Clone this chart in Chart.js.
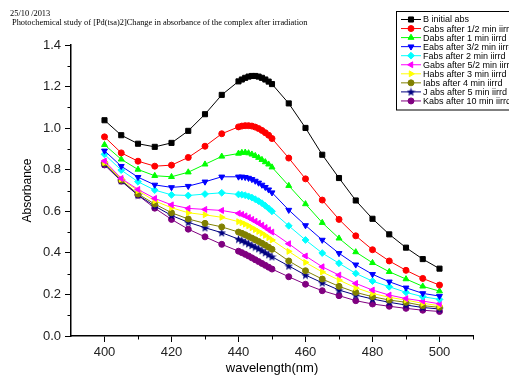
<!DOCTYPE html>
<html>
<head>
<meta charset="utf-8">
<script src="https://cdn.jsdelivr.net/npm/chart.js@4/dist/chart.umd.min.js"></script>
<style>
  body { margin: 0; background: #fff; }
  #wrap { width: 509px; height: 376px; }
</style>
</head>
<body>
<div id="wrap"><canvas id="spec" width="509" height="376"></canvas></div>
<script>
// wavelength (nm) for every recorded point
const wavelengths = [400,405,410,415,420,425,430,435,440,441,442,443,444,445,446,447,448,449,450,455,460,465,470,475,480,485,490,495,500];

const seriesNames = [
  "B initial abs",
  "Cabs after 1/2 min iirrd",
  "Dabs after 1 min iirrd",
  "Eabs after 3/2 min iirrd",
  "Fabs after 2 min iirrd",
  "Gabs after 5/2 min iirrd",
  "Habs after 3 min iirrd",
  "Iabs after 4 min iirrd",
  "J abs after 5 min iirrd",
  "Kabs after 10 min iirrd",
];

const absB = [1.038,0.966,0.925,0.910,0.929,0.987,1.067,1.160,1.225,1.234,1.242,1.248,1.251,1.251,1.248,1.242,1.234,1.224,1.212,1.119,1.001,0.872,0.760,0.652,0.564,0.489,0.425,0.370,0.324];
const absC = [0.958,0.881,0.841,0.817,0.822,0.859,0.913,0.973,1.006,1.010,1.012,1.012,1.010,1.005,0.998,0.989,0.978,0.966,0.950,0.856,0.756,0.654,0.561,0.482,0.415,0.361,0.316,0.277,0.245];
const absD = [0.920,0.850,0.801,0.771,0.766,0.788,0.826,0.864,0.878,0.882,0.883,0.880,0.874,0.867,0.858,0.848,0.837,0.826,0.812,0.723,0.635,0.545,0.470,0.404,0.352,0.309,0.274,0.239,0.216];
const absE = [0.891,0.817,0.764,0.727,0.715,0.721,0.742,0.766,0.766,0.766,0.764,0.760,0.754,0.746,0.737,0.727,0.716,0.704,0.690,0.606,0.532,0.462,0.398,0.343,0.297,0.261,0.232,0.205,0.192];
const absF = [0.874,0.798,0.742,0.702,0.679,0.676,0.683,0.689,0.681,0.680,0.677,0.672,0.666,0.658,0.649,0.639,0.627,0.614,0.600,0.530,0.462,0.399,0.350,0.301,0.264,0.237,0.210,0.189,0.176];
const absG = [0.842,0.758,0.705,0.662,0.631,0.614,0.609,0.604,0.590,0.585,0.578,0.570,0.561,0.552,0.543,0.533,0.522,0.511,0.500,0.444,0.385,0.333,0.293,0.253,0.221,0.197,0.180,0.168,0.155];
const absH = [0.835,0.755,0.699,0.650,0.617,0.593,0.583,0.571,0.550,0.545,0.538,0.530,0.521,0.512,0.503,0.494,0.484,0.473,0.462,0.407,0.354,0.308,0.269,0.232,0.205,0.186,0.173,0.157,0.146];
const absI = [0.832,0.750,0.683,0.635,0.593,0.563,0.542,0.525,0.500,0.494,0.487,0.479,0.471,0.463,0.455,0.446,0.437,0.427,0.417,0.361,0.314,0.274,0.239,0.210,0.189,0.173,0.162,0.146,0.138];
const absJ = [0.828,0.747,0.678,0.625,0.580,0.547,0.521,0.497,0.466,0.460,0.452,0.444,0.436,0.428,0.420,0.411,0.401,0.391,0.381,0.337,0.293,0.256,0.221,0.197,0.178,0.162,0.149,0.137,0.130];
const absK = [0.823,0.745,0.677,0.615,0.561,0.514,0.477,0.441,0.408,0.401,0.393,0.385,0.376,0.367,0.358,0.349,0.340,0.331,0.322,0.285,0.249,0.218,0.194,0.170,0.154,0.143,0.133,0.124,0.118];

const xTicks = [400, 420, 440, 460, 480, 500];
const yTicks = [0.0, 0.2, 0.4, 0.6, 0.8, 1.0, 1.2, 1.4];
const xMinor = [410, 430, 450, 470, 490, 510];
const yMinor = [0.1, 0.3, 0.5, 0.7, 0.9, 1.1, 1.3];

const allSeries = [absB, absC, absD, absE, absF, absG, absH, absI, absJ, absK];
const colors = ["#000000","#ff0000","#00ff00","#0000ff","#00ffff","#ff00ff","#ffff00","#808000","#000080","#800080"];

// filled star marker like Origin's
function makeStar(color) {
  const c = document.createElement("canvas");
  c.width = 9; c.height = 9;
  const g = c.getContext("2d");
  g.fillStyle = color;
  g.beginPath();
  for (let i = 0; i < 10; i++) {
    const r = i % 2 === 0 ? 4.5 : 1.9;
    const a = -Math.PI / 2 + i * Math.PI / 5;
    g.lineTo(4.5 + r * Math.cos(a), 4.8 + r * Math.sin(a));
  }
  g.closePath();
  g.fill();
  return c;
}
const starImg = makeStar("#000080");

const markers = [
  { style: "rect", rot: 0, r: 3.6 },
  { style: "circle", rot: 0, r: 3 },
  { style: "triangle", rot: 0, r: 3.4 },
  { style: "triangle", rot: 180, r: 3.4 },
  { style: "rectRot", rot: 0, r: 3.4 },
  { style: "triangle", rot: -90, r: 3.4 },
  { style: "triangle", rot: 90, r: 3.4 },
  { style: "circle", rot: 0, r: 3 },
  { style: starImg, rot: 0, r: 4 },
  { style: "circle", rot: 0, r: 3 },
];

const datasets = allSeries.map((vals, i) => ({
  label: seriesNames[i],
  data: vals.map((v, k) => ({ x: wavelengths[k], y: v })),
  borderColor: colors[i],
  backgroundColor: colors[i],
  borderWidth: 1,
  tension: 0,
  pointStyle: markers[i].style,
  rotation: markers[i].rot,
  pointRadius: markers[i].r,
  pointBorderWidth: 1,
}));

// header text, small minor ticks and the boxed legend
const extras = {
  id: "extras",
  afterDraw(chart) {
    const ctx = chart.ctx;
    ctx.save();
    ctx.fillStyle = "#000";
    ctx.font = "8.4px 'Liberation Serif', 'Times New Roman', serif";
    ctx.textBaseline = "alphabetic";
    ctx.textAlign = "left";
    ctx.fillText("25/10 /2013", 10, 16);
    ctx.fillText("Photochemical study of [Pd(tsa)2]Change in absorbance of the complex after irradiation", 12, 25);

    // minor ticks
    const xs = chart.scales.x, ys = chart.scales.y;
    ctx.strokeStyle = "#000";
    ctx.lineWidth = 1;
    ctx.beginPath();
    xMinor.forEach(v => {
      const px = Math.round(xs.getPixelForValue(v)) + 0.5;
      ctx.moveTo(px, ys.bottom);
      ctx.lineTo(px, ys.bottom + 3.5);
    });
    yMinor.forEach(v => {
      const py = Math.round(ys.getPixelForValue(v)) + 0.5;
      ctx.moveTo(xs.left, py);
      ctx.lineTo(xs.left - 3.5, py);
    });
    ctx.stroke();

    // legend
    ctx.lineWidth = 1;
    ctx.strokeStyle = "#000";
    ctx.strokeRect(396.5, 11.5, 130, 98.5);
    ctx.font = "9px 'Liberation Sans', Arial, sans-serif";
    ctx.textBaseline = "middle";
    datasets.forEach((ds, i) => {
      const y = 19.5 + i * 9.05;
      ctx.strokeStyle = ds.borderColor;
      ctx.fillStyle = ds.backgroundColor;
      ctx.lineWidth = 1;
      ctx.beginPath();
      ctx.moveTo(401, y);
      ctx.lineTo(421, y);
      ctx.stroke();
      Chart.helpers.drawPoint(ctx, {
        pointStyle: ds.pointStyle,
        rotation: ds.rotation,
        radius: ds.pointRadius,
        borderWidth: 1,
      }, 411, y);
      ctx.fillStyle = "#000";
      ctx.fillText(ds.label, 423, y + 0.5);
    });
    ctx.restore();
  },
};

const tickFont = { family: "'Liberation Sans', Arial, sans-serif", size: 13 };
const yTitleFont = { family: "'Liberation Sans', Arial, sans-serif", size: 12 };

new Chart(document.getElementById("spec"), {
  type: "line",
  data: { datasets },
  options: {
    responsive: false,
    animation: false,
    events: [],
    layout: { padding: { left: 0, top: 45, right: 36, bottom: 0 } },
    plugins: {
      legend: { display: false },
      tooltip: { enabled: false },
      title: { display: false },
    },
    scales: {
      x: {
        type: "linear",
        min: 390,
        max: 510,
        afterBuildTicks: s => { s.ticks = xTicks.map(v => ({ value: v })); },
        afterFit: s => { s.height = 40; },
        ticks: { color: "#222", font: tickFont, padding: 3, maxRotation: 0 },
        grid: { drawOnChartArea: false, drawTicks: true, tickLength: 6, color: "#000", tickWidth: 1 },
        border: { display: true, color: "#000", width: 1.5 },
        title: { display: true, text: "wavelength(nm)", color: "#000", font: tickFont, padding: { top: 0, bottom: 0 } },
      },
      y: {
        type: "linear",
        min: 0,
        max: 1.4,
        afterBuildTicks: s => { s.ticks = yTicks.map(v => ({ value: v })); },
        afterFit: s => { s.width = 71; },
        ticks: { color: "#222", font: tickFont, padding: 4, callback: v => Number(v).toFixed(1) },
        grid: { drawOnChartArea: false, drawTicks: true, tickLength: 6, color: "#000", tickWidth: 1 },
        border: { display: true, color: "#000", width: 1.5 },
        title: { display: true, text: "Absorbance", color: "#000", font: yTitleFont, padding: { top: 20, bottom: 0 } },
      },
    },
  },
  plugins: [extras],
});
</script>
</body>
</html>
